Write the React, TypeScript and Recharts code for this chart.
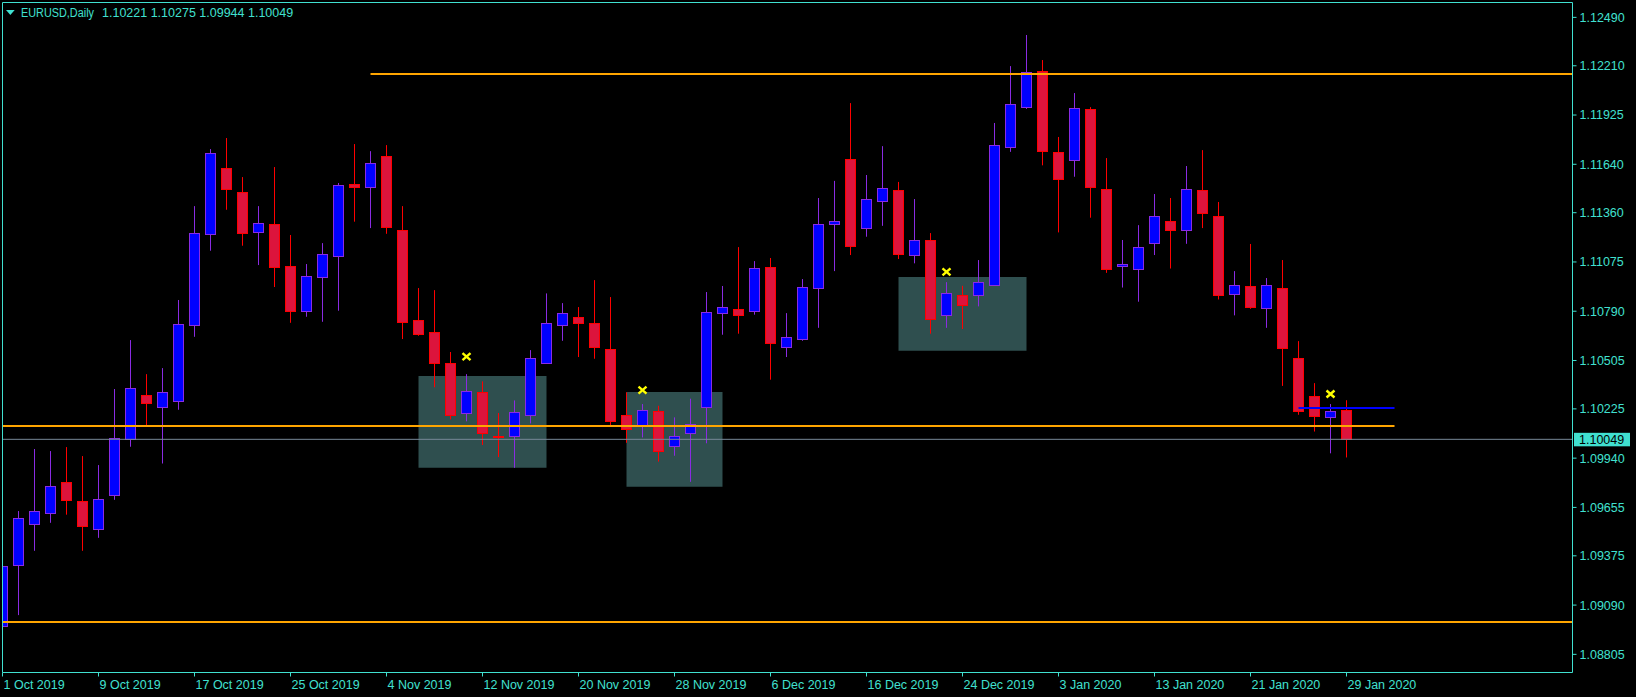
import React from 'react'
import { ComposedChart, Bar, Scatter, XAxis, YAxis, ReferenceLine, ReferenceArea } from 'recharts'

// EURUSD daily sessions, 1 Oct 2019 .. 29 Jan 2020
const opens = [
  1.08969, 1.09320, 1.09557, 1.09621, 1.09802, 1.09690, 1.09528, 1.09725, 1.10049, 1.10303,
  1.10234, 1.10272, 1.10708, 1.11236, 1.11616, 1.11478, 1.11248, 1.11294, 1.11051, 1.10789,
  1.10986, 1.11111, 1.11526, 1.11511, 1.11688, 1.11260, 1.10739, 1.10669, 1.10488, 1.10201,
  1.10321, 1.10071, 1.10066, 1.10189, 1.10492, 1.10708, 1.10754, 1.10722, 1.10569, 1.10188,
  1.10127, 1.10211, 1.10008, 1.10085, 1.10236, 1.10778, 1.10801, 1.10789, 1.11045, 1.10581,
  1.10627, 1.10924, 1.11294, 1.11670, 1.11273, 1.11429, 1.11490, 1.11117, 1.11200, 1.10766,
  1.10881, 1.10885, 1.10943, 1.11741, 1.11973, 1.12179, 1.11709, 1.11663, 1.11958, 1.11495,
  1.11051, 1.11034, 1.11186, 1.11310, 1.11258, 1.11490, 1.11339, 1.10887, 1.10936, 1.10807,
  1.10924, 1.10517, 1.10302, 1.10178, 1.10221,
]
const highs = [
  1.09424, 1.09634, 1.09993, 1.09981, 1.10004, 1.09952, 1.09900, 1.10340, 1.10623, 1.10426,
  1.10461, 1.10855, 1.11398, 1.11728, 1.11792, 1.11566, 1.11398, 1.11624, 1.11231, 1.11063,
  1.11184, 1.11532, 1.11757, 1.11716, 1.11751, 1.11398, 1.10924, 1.10912, 1.10554, 1.10426,
  1.10384, 1.10201, 1.10274, 1.10565, 1.10893, 1.10837, 1.10814, 1.10970, 1.10872, 1.10321,
  1.10253, 1.10243, 1.10176, 1.10284, 1.10901, 1.10936, 1.11161, 1.11080, 1.11098, 1.10779,
  1.10976, 1.11445, 1.11544, 1.11994, 1.11578, 1.11745, 1.11538, 1.11439, 1.11242, 1.10958,
  1.10937, 1.11086, 1.11879, 1.12208, 1.12388, 1.12243, 1.11798, 1.12052, 1.11971, 1.11676,
  1.11202, 1.11288, 1.11468, 1.11445, 1.11630, 1.11722, 1.11422, 1.11022, 1.11179, 1.10982,
  1.11086, 1.10617, 1.10374, 1.10253, 1.10275,
]
const lows = [
  1.08785, 1.09032, 1.09404, 1.09566, 1.09613, 1.09404, 1.09479, 1.09699, 1.10006, 1.10130,
  1.09909, 1.10220, 1.10642, 1.11140, 1.11377, 1.11169, 1.11057, 1.10930, 1.10723, 1.10758,
  1.10729, 1.10793, 1.11308, 1.11271, 1.11238, 1.10629, 1.10648, 1.10350, 1.10164, 1.10153,
  1.10016, 1.09946, 1.09884, 1.10141, 1.10487, 1.10619, 1.10525, 1.10515, 1.10131, 1.10029,
  1.10060, 1.09920, 1.09954, 1.09803, 1.10026, 1.10654, 1.10660, 1.10770, 1.10394, 1.10525,
  1.10619, 1.10694, 1.11022, 1.11115, 1.11221, 1.11284, 1.11092, 1.11067, 1.10660, 1.10694,
  1.10687, 1.10818, 1.10938, 1.11712, 1.11960, 1.11634, 1.11246, 1.11568, 1.11331, 1.11012,
  1.10927, 1.10845, 1.11115, 1.11037, 1.11180, 1.11271, 1.10858, 1.10766, 1.10804, 1.10694,
  1.10358, 1.10191, 1.10094, 1.09968, 1.09944,
]
const closes = [
  1.09316, 1.09592, 1.09632, 1.09779, 1.09699, 1.09549, 1.09702, 1.10055, 1.10344, 1.10257,
  1.10321, 1.10716, 1.11242, 1.11704, 1.11495, 1.11242, 1.11300, 1.11045, 1.10793, 1.10992,
  1.11119, 1.11518, 1.11511, 1.11645, 1.11278, 1.10729, 1.10660, 1.10492, 1.10191, 1.10326,
  1.10085, 1.10066, 1.10205, 1.10517, 1.10722, 1.10778, 1.10722, 1.10584, 1.10156, 1.10110,
  1.10217, 1.09983, 1.10066, 1.10139, 1.10783, 1.10812, 1.10770, 1.11040, 1.10604, 1.10639,
  1.10930, 1.11294, 1.11310, 1.11169, 1.11437, 1.11505, 1.11121, 1.11200, 1.10746, 1.10893,
  1.10827, 1.10961, 1.11750, 1.11987, 1.12172, 1.11718, 1.11555, 1.11964, 1.11511, 1.11034,
  1.11061, 1.11159, 1.11339, 1.11258, 1.11495, 1.11356, 1.10881, 1.10940, 1.10816, 1.10940,
  1.10575, 1.10211, 1.10185, 1.10211, 1.10049,
]

const tickDays = [0, 6, 12, 18, 24, 30, 36, 42, 48, 54, 60, 66, 72, 78, 84]
const tickLabels = [
  '1 Oct 2019', '9 Oct 2019', '17 Oct 2019', '25 Oct 2019', '4 Nov 2019', '12 Nov 2019',
  '20 Nov 2019', '28 Nov 2019', '6 Dec 2019', '16 Dec 2019', '24 Dec 2019', '3 Jan 2020',
  '13 Jan 2020', '21 Jan 2020', '29 Jan 2020',
]
const priceTicks = [
  1.1249, 1.1221, 1.11925, 1.1164, 1.1136, 1.11075, 1.1079, 1.10505, 1.10225, 1.0994,
  1.09655, 1.09375, 1.0909, 1.08805,
]

// yellow crosses
const markDays = [29, 40, 59, 83]
const markPrices = [1.10527, 1.10334, 1.11018, 1.10311]

// shaded zones
const zoneFrom = [26, 39, 56]
const zoneTo = [34, 45, 64]
const zoneLow = [1.09884, 1.09775, 1.10561]
const zoneHigh = [1.10415, 1.10322, 1.10988]

// horizontal levels
const resistance = 1.12163
const resistanceFrom = 23
const midLevel = 1.10126
const midTo = 87
const support = 1.08992
const pivot = 1.1023
const pivotFrom = 81
const lastPrice = closes[closes.length - 1]

const W = 1636
const H = 697
const LAST_DAY = 98.125
const TEXT = '#40E0D0'
const FONT = '"Liberation Sans", Arial, sans-serif'

const candles = opens.map((o, i) => ({
  day: i, o, h: highs[i], l: lows[i], c: closes[i], range: [lows[i], highs[i]],
}))
const marks = markDays.map((d, i) => ({ day: d, price: markPrices[i] }))

function Candle(props: any) {
  const { x, y, width, height, payload } = props
  if (!payload || height == null) return null
  const { o, h, l, c } = payload
  const top = Math.min(y, y + height)
  const span = Math.abs(height)
  const ppu = span / (h - l)
  const yo = top + (h - o) * ppu
  const yc = top + (h - c) * ppu
  const cx = Math.round(x + width / 2) + 0.5
  const up = c > o
  const edge = up ? '#8A2BE2' : '#FF0000'
  const bt = Math.round(Math.min(yo, yc)) + 0.5
  const bb = Math.max(Math.round(Math.max(yo, yc)) + 0.5, bt + 1)
  return (
    <g>
      <line x1={cx} x2={cx} y1={top} y2={top + span} stroke={edge} strokeWidth={1} />
      <rect x={cx - 5} y={bt} width={10} height={bb - bt} fill={up ? '#0000FF' : '#DC143C'} stroke={edge} strokeWidth={1} />
    </g>
  )
}

function Cross({ cx, cy }: any) {
  if (cx == null) return null
  return (
    <path
      d={`M${cx - 4},${cy - 3.5} L${cx + 4},${cy + 3.5} M${cx + 4},${cy - 3.5} L${cx - 4},${cy + 3.5}`}
      stroke="#FFFF00" strokeWidth={2.4} fill="none"
    />
  )
}

function DayTick({ x, y, payload }: any) {
  const k = tickDays.indexOf(payload.value)
  return (
    <text x={x + 1} y={y + 12} fill={TEXT} fontSize={12.5} fontFamily={FONT}>
      {tickLabels[k]}
    </text>
  )
}

function PriceTag({ viewBox }: any) {
  if (!viewBox) return null
  const right = viewBox.x + viewBox.width
  const y = viewBox.y
  return (
    <g>
      <rect x={right + 1.5} y={y - 6.5} width={56} height={13.5} fill={TEXT} />
      <text x={right + 6.5} y={y + 4.5} fill="#000000" fontSize={12.5} fontFamily={FONT}>
        {lastPrice.toFixed(5)}
      </text>
    </g>
  )
}

export default function App() {
  return (
    <div style={{ position: 'absolute', left: 0, top: 0, width: W, height: H, background: '#000' }}>
      <ComposedChart width={W} height={H} data={candles} margin={{ top: 2.5, right: 0, bottom: 0, left: 2.5 }}>
        <XAxis
          dataKey="day" type="number" domain={[0, LAST_DAY]} allowDataOverflow
          ticks={tickDays} interval={0} height={24.5} tickSize={4} tickMargin={0}
          tick={<DayTick />} axisLine={{ stroke: TEXT }} tickLine={{ stroke: TEXT }}
        />
        <YAxis
          orientation="right" type="number" domain={[1.087, 1.12576]} allowDataOverflow
          ticks={priceTicks} interval={0} width={63.5} tickSize={4} tickMargin={3}
          tickFormatter={(v: number) => v.toFixed(5)}
          tick={{ fill: TEXT, fontSize: 12.5, fontFamily: FONT }}
          axisLine={{ stroke: TEXT }} tickLine={{ stroke: TEXT }}
        />
        {zoneFrom.map((f, i) => (
          <ReferenceArea
            key={i} x1={f} x2={zoneTo[i]} y1={zoneLow[i]} y2={zoneHigh[i]}
            fill="#2F4F4F" fillOpacity={1} stroke="none"
          />
        ))}
        <ReferenceLine y={lastPrice} stroke="#778899" strokeWidth={1} label={PriceTag} />
        <Bar dataKey="range" barSize={11} isAnimationActive={false} shape={(p: any) => <Candle {...p} />} />
        <ReferenceLine y={support} stroke="#FFA500" strokeWidth={2} />
        <ReferenceLine
          segment={[{ x: resistanceFrom, y: resistance }, { x: LAST_DAY, y: resistance }]}
          stroke="#FFA500" strokeWidth={2}
        />
        <ReferenceLine
          segment={[{ x: 0, y: midLevel }, { x: midTo, y: midLevel }]}
          stroke="#FFA500" strokeWidth={2}
        />
        <ReferenceLine
          segment={[{ x: pivotFrom, y: pivot }, { x: midTo, y: pivot }]}
          stroke="#0000FF" strokeWidth={2}
        />
        <Scatter data={marks} dataKey="price" shape={(p: any) => <Cross {...p} />} isAnimationActive={false} />
      </ComposedChart>
      <svg width={W} height={H} style={{ position: 'absolute', left: 0, top: 0, pointerEvents: 'none' }}>
        <line x1={2.5} x2={1572.5} y1={2.5} y2={2.5} stroke={TEXT} />
        <line x1={2.5} x2={2.5} y1={2.5} y2={672.5} stroke={TEXT} />
        <polygon points="6,10 14.7,10 10.35,15" fill={TEXT} />
        <text x={21} y={16.5} fill={TEXT} fontSize={12.5} fontFamily={FONT} textLength={73} lengthAdjust="spacingAndGlyphs">
          EURUSD,Daily
        </text>
        <text x={102} y={16.5} fill={TEXT} fontSize={12.5} fontFamily={FONT}>
          {[opens[84], highs[84], lows[84], closes[84]].map((v) => v.toFixed(5)).join(' ')}
        </text>
      </svg>
    </div>
  )
}
